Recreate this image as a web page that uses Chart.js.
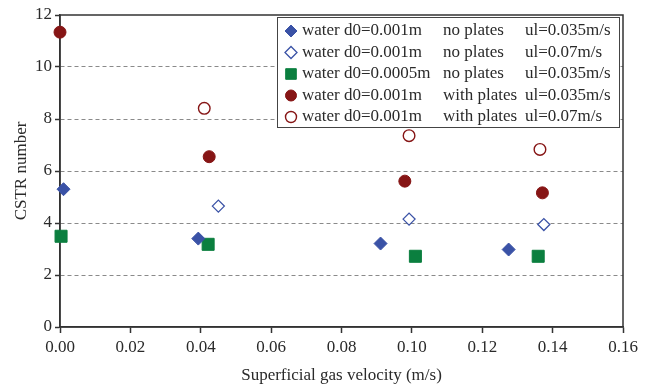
<!DOCTYPE html>
<html>
<head>
<meta charset="utf-8">
<script src="https://cdn.jsdelivr.net/npm/chart.js@4.4.1/dist/chart.umd.min.js"></script>
<style>
html,body{margin:0;padding:0;background:#fff;}
#wrap{width:653px;height:386px;}
</style>
</head>
<body>
<div id="wrap"><canvas id="c" width="653" height="386"></canvas></div>
<script>
// ---- data ----
const s1x = [0.001, 0.0393, 0.0911, 0.1275];
const s1y = [5.30, 3.40, 3.21, 2.98];
const s2x = [0.045, 0.0992, 0.1375];
const s2y = [4.65, 4.15, 3.94];
const s3x = [0.0003, 0.0421, 0.101, 0.1359];
const s3y = [3.49, 3.18, 2.72, 2.72];
const s4x = [0.0, 0.0424, 0.098, 0.1371];
const s4y = [11.34, 6.55, 5.61, 5.16];
const s5x = [0.041, 0.0992, 0.1364];
const s5y = [8.41, 7.36, 6.83];

const legendCol1 = ["water d0=0.001m", "water d0=0.001m", "water d0=0.0005m", "water d0=0.001m", "water d0=0.001m"];
const legendCol2 = ["no plates", "no plates", "no plates", "with plates", "with plates"];
const legendCol3 = ["ul=0.035m/s", "ul=0.07m/s", "ul=0.035m/s", "ul=0.035m/s", "ul=0.07m/s"];

const xTicks = [0, 0.02, 0.04, 0.06, 0.08, 0.10, 0.12, 0.14, 0.16];
const yTicks = [0, 2, 4, 6, 8, 10, 12];
const xTitle = "Superficial gas velocity (m/s)";
const yTitle = "CSTR number";

const BLUE = "#3a52a6";
const GREEN = "#0b7f3f";
const RED = "#861515";
const TXT = "#2a2a2a";
const FONT = "'Liberation Serif', 'Times New Roman', serif";

function pts(xs, ys){ return xs.map((x,i)=>({x:x, y:ys[i]})); }

const datasets = [
  {label: legendCol1[0], data: pts(s1x,s1y), pointStyle:'rectRot', pointRadius:6.5, backgroundColor:BLUE, borderColor:BLUE, borderWidth:1, clip:false},
  {label: legendCol1[1], data: pts(s2x,s2y), pointStyle:'rectRot', pointRadius:6, backgroundColor:'#fff', borderColor:BLUE, borderWidth:1.3, clip:false},
  {label: legendCol1[2], data: pts(s3x,s3y), pointStyle:'rect', pointRadius:8.5, backgroundColor:GREEN, borderColor:GREEN, borderWidth:1, clip:false},
  {label: legendCol1[3], data: pts(s4x,s4y), pointStyle:'circle', pointRadius:6, backgroundColor:RED, borderColor:RED, borderWidth:1, clip:false},
  {label: legendCol1[4], data: pts(s5x,s5y), pointStyle:'circle', pointRadius:5.8, backgroundColor:'#fff', borderColor:RED, borderWidth:1.4, clip:false}
];

const framePlugin = {
  id:'frame',
  beforeDatasetsDraw(chart){
    const {ctx, chartArea:a} = chart;
    ctx.save();
    ctx.strokeStyle = '#333';
    ctx.lineWidth = 1.5;
    ctx.strokeRect(a.left, a.top, a.right-a.left, a.bottom-a.top);
    ctx.restore();
  },
  afterDraw(chart){
    const {ctx} = chart;
    ctx.save();
    const lx = 277, ly = 17, lw = 342, lh = 110;
    ctx.fillStyle = '#fff';
    ctx.fillRect(lx, ly, lw, lh);
    ctx.strokeStyle = '#444';
    ctx.lineWidth = 1;
    ctx.strokeRect(lx+0.5, ly+0.5, lw, lh);
    ctx.font = "17px " + FONT;
    ctx.textBaseline = 'middle';
    const rowH = 21.5;
    for (let i=0;i<5;i++){
      const y = ly + 14 + i*rowH;
      const ds = datasets[i];
      ctx.save();
      ctx.fillStyle = ds.backgroundColor;
      ctx.strokeStyle = ds.borderColor;
      ctx.lineWidth = ds.borderWidth;
      Chart.helpers.drawPoint(ctx, {pointStyle: ds.pointStyle, radius: ds.pointStyle==='rect'?7.5:(ds.pointStyle==='rectRot'?6:5.5), borderWidth: ds.borderWidth}, 291, y);
      ctx.restore();
      ctx.fillStyle = TXT;
      ctx.textAlign = 'left';
      ctx.fillText(legendCol1[i], 302, y);
      ctx.fillText(legendCol2[i], 443, y);
      ctx.fillText(legendCol3[i], 525, y);
    }
    ctx.restore();
  }
};

new Chart(document.getElementById('c'), {
  type:'scatter',
  data:{datasets},
  options:{
    responsive:false,
    animation:false,
    layout:{padding:{top:15, right:30, left:0, bottom:0}},
    plugins:{legend:{display:false}, tooltip:{enabled:false}},
    scales:{
      x:{
        type:'linear', min:0, max:0.16,
        afterBuildTicks(s){ s.ticks = xTicks.map(v=>({value:v})); },
        afterFit(s){ s.height = 59; },
        ticks:{ font:{family:FONT, size:17}, color:TXT, padding:4, maxRotation:0,
          callback:(v)=>v.toFixed(2)},
        grid:{ drawOnChartArea:false, drawTicks:true, tickLength:6, tickColor:'#333', tickWidth:1.5 },
        border:{ color:'#333', width:1.5 },
        title:{ display:true, text:xTitle, font:{family:FONT, size:17}, color:TXT, padding:{top:5, bottom:0} }
      },
      y:{
        type:'linear', min:0, max:12,
        afterBuildTicks(s){ s.ticks = yTicks.map(v=>({value:v})); },
        afterFit(s){ s.width = 60; },
        ticks:{ font:{family:FONT, size:17}, color:TXT, padding:3, callback:(v)=>String(v)},
        grid:{ color:(c)=> (c.tick && (c.tick.value===0 || c.tick.value===12)) ? 'rgba(0,0,0,0)' : '#8a8a8a',
               lineWidth:1, drawTicks:true, tickLength:5, tickColor:'#333', tickWidth:1.5, tickBorderDash:[] },
        border:{ color:'#333', width:1.5, dash:[4,3] },
        title:{ display:true, text:yTitle, font:{family:FONT, size:17}, color:TXT, padding:{top:11, bottom:0} }
      }
    }
  },
  plugins:[framePlugin]
});
</script>
</body>
</html>
